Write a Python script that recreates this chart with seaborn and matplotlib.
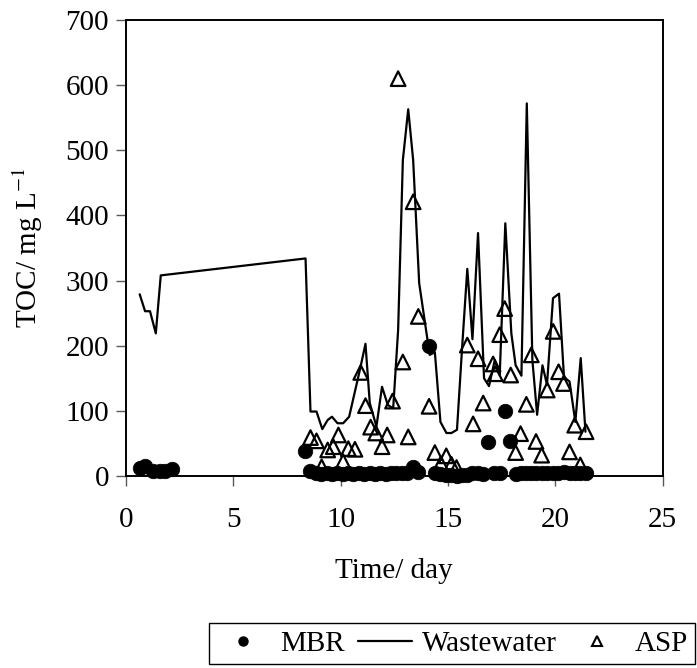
import numpy as np
import pandas as pd
import matplotlib
matplotlib.use("Agg")
import matplotlib.pyplot as plt
from matplotlib.lines import Line2D
import seaborn as sns

# MBR permeate TOC (filled circles)
mbr_day = [0.67, 0.9, 1.28, 1.6, 1.85, 2.14, 8.34,
           8.6, 8.85, 9.1, 9.35, 9.6, 9.85, 10.1, 10.35, 10.6, 10.85, 11.1, 11.35,
           11.6, 11.85, 12.1, 12.35, 12.6, 12.85, 13.1, 13.38, 13.6, 14.12, 14.39,
           14.65, 14.9, 15.16, 15.4, 15.66, 15.9, 16.14, 16.4, 16.63, 16.87, 17.16,
           17.41, 17.64, 17.9, 18.15, 18.38, 18.65, 18.88, 19.12, 19.36, 19.62,
           19.88, 20.14, 20.38, 20.66, 20.9, 21.16, 21.42]
mbr_toc = [13, 15, 8, 7, 7, 11, 38,
           8, 4, 3, 4, 3, 4, 3, 4, 3, 4, 3, 4,
           3, 4, 3, 4, 4, 5, 5, 14, 6, 200, 4,
           3, 2, 2, 0, 1, 2, 4, 4, 3, 52, 5,
           5, 100, 53, 3, 4, 5, 4, 4, 5, 4,
           5, 5, 6, 5, 4, 5, 5]

# raw wastewater TOC (line)
ww_day = [0.65, 0.9, 1.13, 1.4, 1.63, 8.37, 8.6, 8.88, 9.15, 9.4, 9.6, 9.86,
          10.12, 10.4, 10.9, 11.16, 11.36, 11.67, 11.93, 12.2, 12.45, 12.68,
          12.9, 13.15, 13.38, 13.66, 14.15, 14.39, 14.65, 14.93, 15.16, 15.42,
          15.66, 15.9, 16.14, 16.4, 16.68, 16.91, 17.18, 17.41, 17.67, 17.95,
          18.15, 18.42, 18.67, 18.93, 19.15, 19.4, 19.61, 19.89, 20.17, 20.4,
          20.66, 20.93, 21.18, 21.4]
ww_toc = [279, 253, 253, 219, 308, 334, 99, 99, 72, 86, 91, 81,
          81, 91, 163, 203, 112, 76, 137, 109, 104, 224,
          485, 563, 485, 296, 186, 190, 83, 66, 66, 71,
          198, 318, 210, 373, 150, 138, 178, 155, 388, 219,
          170, 154, 572, 178, 94, 170, 140, 273, 280, 152,
          145, 83, 181, 68]

# activated sludge process effluent TOC (open triangles)
asp_day = [8.6, 8.88, 9.12, 9.4, 9.66, 9.9, 10.12, 10.36, 10.67, 10.94, 11.16,
           11.4, 11.64, 11.93, 12.17, 12.42, 12.68, 12.9, 13.15, 13.38, 13.62,
           14.12, 14.39, 14.67, 14.92, 15.16, 15.4, 15.9, 16.17, 16.4, 16.64,
           17.1, 17.2, 17.41, 17.64, 17.92, 18.15, 18.38, 18.65, 18.88, 19.1,
           19.36, 19.62, 19.9, 20.15, 20.38, 20.66, 20.9, 21.16, 21.43]
asp_toc = [59, 54, 14, 40, 45, 63, 22, 42, 41, 159, 108,
           75, 66, 45, 63, 115, 610, 175, 60, 421, 245,
           107, 36, 19, 31, 18, 13, 201, 80, 180, 112,
           172, 157, 217, 257, 155, 36, 65, 110, 186, 53,
           32, 132, 222, 160, 142, 37, 78, 17, 68]

sns.set_style("ticks")
plt.rcParams["font.family"] = ["Liberation Serif", "DejaVu Serif"]
plt.rcParams["mathtext.fontset"] = "stix"
plt.rcParams["text.color"] = "black"
plt.rcParams["axes.labelcolor"] = "black"
FS = 21

fig = plt.figure(figsize=(6.97, 6.68), dpi=100)
ax = fig.add_axes([0.1804, 0.2874, 0.7705, 0.6826])

ww = pd.DataFrame({"day": ww_day, "toc": ww_toc})
sns.lineplot(data=ww, x="day", y="toc", ax=ax, color="black", linewidth=1.6,
             estimator=None, sort=False, zorder=2)
sns.scatterplot(x=asp_day, y=asp_toc, ax=ax, marker="^", s=110,
                facecolor="none", edgecolor="black", linewidth=1.6,
                zorder=3, clip_on=False)
sns.scatterplot(x=mbr_day, y=mbr_toc, ax=ax, marker="o", s=110,
                color="black", edgecolor="black", linewidth=0.5,
                zorder=4, clip_on=False)

ax.set_xlim(0, 25)
ax.set_ylim(0, 700)
ax.set_xticks(np.arange(0, 26, 5))
ax.set_yticks(np.arange(0, 701, 100))
ax.tick_params(axis="both", direction="out", length=7, width=1,
               color="0.35", labelsize=FS, labelcolor="black")
ax.tick_params(axis="x", pad=15)
ax.tick_params(axis="y", pad=5)
for sp in ax.spines.values():
    sp.set_color("black")
    sp.set_linewidth(1.4)

ax.set_xlabel("Time/ day", fontsize=FS)
ax.set_ylabel("TOC/ mg L$^{-1}$", fontsize=FS)
ax.xaxis.set_label_coords(0.5, -0.18)
ax.yaxis.set_label_coords(-0.15, 0.5)

handles = [
    Line2D([], [], marker="o", color="black", linestyle="none", markersize=6.5),
    Line2D([], [], color="black", linewidth=1.6),
    Line2D([], [], marker="^", color="black", markerfacecolor="none",
           linestyle="none", markersize=6.5, markeredgewidth=1.5),
]
leg = fig.legend(handles, ["MBR", "Wastewater", "ASP"], ncol=3,
                 loc="upper left", bbox_to_anchor=(209 / 697, 1 - 623 / 668),
                 fontsize=FS, frameon=True, fancybox=False, framealpha=1,
                 edgecolor="black", handlelength=1.85, handletextpad=0.35,
                 columnspacing=0.45, borderpad=0.25, borderaxespad=0)
leg.get_frame().set_linewidth(1.0)

fig.savefig("out.png", dpi=100)
